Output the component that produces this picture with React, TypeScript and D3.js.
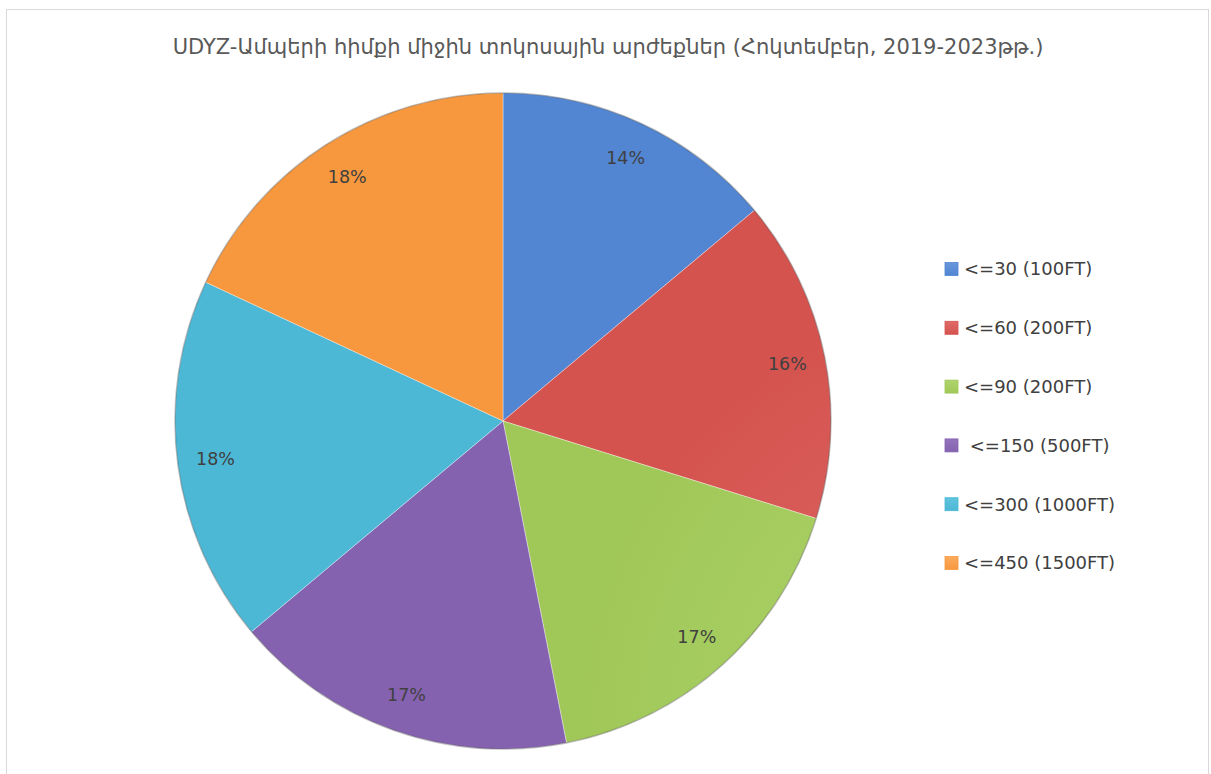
import React from "react";
import * as d3 from "d3";

const categories = ["<=30 (100FT)", "<=60 (200FT)", "<=90 (200FT)", " <=150 (500FT)", "<=300 (1000FT)", "<=450 (1500FT)"];
const values = [13.9, 15.9, 17.1, 17.0, 18.05, 18.05];
const labels = ["14%", "16%", "17%", "17%", "18%", "18%"];
const baseColors = ["#5286d2", "#d4534f", "#a0c858", "#8562b0", "#4cb8d5", "#f8983e"];
const lightColors = ["#6797dc", "#e06b67", "#b0d46e", "#9274bc", "#60c3de", "#fbab5d"];
const title = "UDYZ-Ամպերի հիմքի միջին տոկոսային արժեքներ (Հոկտեմբեր, 2019-2023թթ.)";

export default function App() {
  const W = 1211, H = 774;
  const cx = 503, cy = 421, r = 328;
  const pie = d3.pie<number>().sort(null).value((d) => d)(values);
  const arc = d3.arc<d3.PieArcDatum<number>>().innerRadius(0).outerRadius(r);
  const labelArc = d3.arc<d3.PieArcDatum<number>>().innerRadius(290).outerRadius(290);
  const legendY = d3.scalePoint<number>().domain(d3.range(categories.length)).range([269, 563]);
  const font = "'DejaVu Sans', 'Noto Sans', sans-serif";
  return (
    <svg width={W} height={H} style={{ position: "absolute", left: 0, top: 0 }}>
      <defs>
        {baseColors.map((c, i) => (
          <radialGradient key={i} id={`g${i}`} gradientUnits="userSpaceOnUse" cx={cx} cy={cy - 120} r={r * 1.3}>
            <stop offset="0%" stopColor={lightColors[i]} />
            <stop offset="100%" stopColor={c} />
          </radialGradient>
        ))}
        {baseColors.map((c, i) => (
          <linearGradient key={i} id={`l${i}`} x1="0" y1="0" x2="0" y2="1">
            <stop offset="0%" stopColor={lightColors[i]} />
            <stop offset="100%" stopColor={c} />
          </linearGradient>
        ))}
      </defs>
      <rect x={6.5} y={9.5} width={1202} height={780} fill="#fff" stroke="#d9d9d9" strokeWidth={1} />
      <text x={608} y={54} textAnchor="middle" fontFamily={font} fontSize={21} fill="#595959">{title}</text>
      <g transform={`translate(${cx},${cy})`}>
        {pie.map((p, i) => (
          <path key={i} d={arc(p) || ""} fill={`url(#g${i})`} stroke="#ffffff" strokeOpacity={0.35} strokeWidth={1} />
        ))}
        <circle r={r} fill="none" stroke="#000" strokeOpacity={0.25} strokeWidth={1.5} />
        {pie.map((p, i) => {
          const [x, y] = labelArc.centroid(p);
          return (
            <text key={i} x={x} y={y} dy="0.35em" textAnchor="middle" fontFamily={font} fontSize={17.5} fill="#404040">{labels[i]}</text>
          );
        })}
      </g>
      {categories.map((c, i) => (
        <g key={i} transform={`translate(945,${legendY(i)})`}>
          <rect x={0} y={-6.5} width={13} height={13} fill={`url(#l${i})`} stroke={baseColors[i]} strokeWidth={0.8} />
          <text x={19} y={0} dy="0.35em" fontFamily={font} fontSize={18} fill="#404040" style={{ whiteSpace: "pre" }}>{c}</text>
        </g>
      ))}
    </svg>
  );
}
